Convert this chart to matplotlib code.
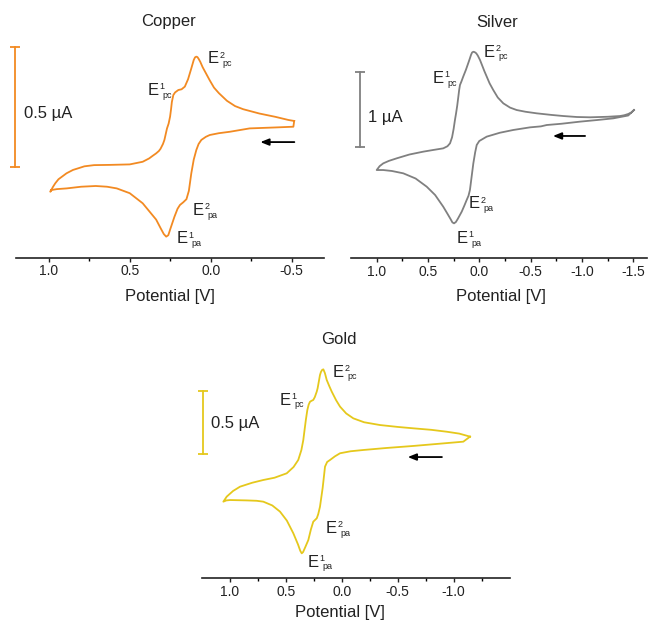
import matplotlib
matplotlib.use('Agg')
import matplotlib.pyplot as plt
from matplotlib.ticker import FixedLocator

plt.rcParams['font.family'] = ['Liberation Sans', 'DejaVu Sans']
plt.rcParams['axes.unicode_minus'] = False

W, H = 649, 624

# ---- Copper (potential V, current uA) ----
cu_v_cath = [-0.515, -0.48, -0.40, -0.30, -0.20, -0.15, -0.10, -0.05, -0.02, 0.006, 0.03, 0.05,
             0.065, 0.075, 0.082, 0.089, 0.097, 0.105, 0.12, 0.14, 0.16, 0.18, 0.20, 0.22, 0.231,
             0.24, 0.245, 0.251, 0.26, 0.27, 0.286, 0.295, 0.31, 0.32, 0.337, 0.36, 0.38, 0.42,
             0.50, 0.62, 0.72, 0.78, 0.817, 0.85, 0.89, 0.92, 0.94, 0.96, 0.975, 0.99]
cu_i_cath = [0.121, 0.125, 0.138, 0.152, 0.17, 0.183, 0.205, 0.237, 0.26, 0.29, 0.32, 0.345,
             0.368, 0.38, 0.387, 0.389, 0.386, 0.375, 0.34, 0.295, 0.264, 0.253, 0.25, 0.24, 0.229,
             0.20, 0.17, 0.139, 0.11, 0.09, 0.042, 0.025, 0.005, -0.004, -0.014, -0.025, -0.035, -0.049,
             -0.06, -0.062, -0.063, -0.068, -0.076, -0.083, -0.097, -0.112, -0.122, -0.139, -0.155, -0.174]
cu_v_anod = [0.99, 0.986, 0.95, 0.889, 0.80, 0.71, 0.64, 0.58, 0.50, 0.42, 0.337, 0.31, 0.29,
             0.275, 0.262, 0.25, 0.235, 0.224, 0.205, 0.19, 0.17, 0.15, 0.135, 0.12, 0.105, 0.089,
             0.075, 0.058, 0.03, 0.006, -0.05, -0.118, -0.24, -0.40, -0.51, -0.515]
cu_i_anod = [-0.174, -0.167, -0.163, -0.16, -0.153, -0.15, -0.153, -0.16, -0.18, -0.222, -0.29,
             -0.325, -0.35, -0.361, -0.355, -0.33, -0.30, -0.278, -0.245, -0.229, -0.218, -0.205,
             -0.17, -0.097, -0.04, 0.0, 0.025, 0.042, 0.055, 0.0625, 0.07, 0.076, 0.09, 0.094, 0.097,
             0.121]

# ---- Silver ----
ag_v_cath = [-1.506, -1.48, -1.45, -1.41, -1.37, -1.25, -1.078, -0.95, -0.818, -0.70, -0.559,
             -0.45, -0.364, -0.30, -0.234, -0.18, -0.136, -0.10, -0.072, -0.05, -0.03, -0.007, 0.015,
             0.03, 0.045, 0.058, 0.07, 0.08, 0.092, 0.107, 0.13, 0.156, 0.175, 0.188, 0.196, 0.204,
             0.215, 0.226, 0.237, 0.25, 0.265, 0.285, 0.31, 0.351, 0.45, 0.545, 0.68, 0.804, 0.88,
             0.935, 0.97, 0.999]
ag_i_cath = [0.533, 0.50, 0.48, 0.463, 0.453, 0.443, 0.436, 0.44, 0.453, 0.468, 0.489, 0.51,
             0.533, 0.565, 0.622, 0.70, 0.80, 0.89, 0.98, 1.05, 1.12, 1.2, 1.26, 1.29, 1.305, 1.31,
             1.30, 1.27, 1.22, 1.16, 1.07, 0.98, 0.91, 0.867, 0.80, 0.71, 0.59, 0.49, 0.40, 0.28,
             0.17, 0.089, 0.05, 0.022, 0.0, -0.022, -0.06, -0.111, -0.145, -0.178, -0.215, -0.267]
ag_v_anod = [0.999, 0.97, 0.935, 0.85, 0.74, 0.62, 0.512, 0.43, 0.351, 0.31, 0.28, 0.262, 0.246,
             0.228, 0.21, 0.19, 0.171, 0.145, 0.123, 0.105, 0.091, 0.075, 0.058, 0.04, 0.025, 0.0,
             -0.072, -0.2, -0.331, -0.494, -0.60, -0.656, -0.80, -0.98, -1.15, -1.305, -1.45, -1.506]
ag_i_anod = [-0.267, -0.267, -0.267, -0.28, -0.311, -0.38, -0.489, -0.60, -0.756, -0.85, -0.92,
             -0.965, -0.978, -0.96, -0.92, -0.87, -0.822, -0.74, -0.667, -0.61, -0.533, -0.36,
             -0.178, -0.03, 0.067, 0.12, 0.178, 0.23, 0.267, 0.302, 0.315, 0.333, 0.35, 0.378, 0.40,
             0.422, 0.46, 0.533]

# ---- Gold ----
au_v_cath = [-1.146, -1.05, -0.9375, -0.80, -0.639, -0.50, -0.342, -0.20, -0.104, -0.04, 0.015,
             0.05, 0.089, 0.11, 0.134, 0.15, 0.164, 0.175, 0.185, 0.194, 0.205, 0.215, 0.223, 0.24,
             0.254, 0.27, 0.283, 0.295, 0.307, 0.32, 0.333, 0.343, 0.36, 0.388, 0.43, 0.491, 0.60,
             0.70, 0.80, 0.908, 0.97, 1.027, 1.057]
au_i_cath = [0.106, 0.13, 0.145, 0.16, 0.172, 0.183, 0.198, 0.22, 0.251, 0.29, 0.344, 0.395,
             0.463, 0.505, 0.556, 0.61, 0.64, 0.635, 0.62, 0.595, 0.54, 0.49, 0.463, 0.42, 0.397,
             0.39, 0.383, 0.36, 0.317, 0.24, 0.15, 0.079, 0.0, -0.079, -0.135, -0.185, -0.22, -0.238,
             -0.26, -0.291, -0.325, -0.37, -0.41]
au_v_anod = [1.057, 1.03, 0.997, 0.85, 0.76, 0.70, 0.62, 0.551, 0.49, 0.432, 0.39, 0.37, 0.357,
             0.345, 0.325, 0.298, 0.275, 0.254, 0.238, 0.223, 0.21, 0.194, 0.17, 0.149, 0.13, 0.104,
             0.06, 0.015, -0.08, -0.193, -0.40, -0.639, -0.85, -1.086, -1.146]
au_i_anod = [-0.41, -0.40, -0.397, -0.40, -0.403, -0.41, -0.44, -0.489, -0.56, -0.661, -0.75,
             -0.80, -0.82, -0.81, -0.77, -0.714, -0.63, -0.569, -0.555, -0.542, -0.51, -0.45, -0.30,
             -0.132, -0.095, -0.079, -0.05, -0.026, -0.01, 0.0, 0.016, 0.032, 0.048, 0.066, 0.106]

cu_ticks = [1.0, 0.5, 0.0, -0.5]
ag_ticks = [1.0, 0.5, 0.0, -0.5, -1.0, -1.5]
au_ticks = [1.0, 0.5, 0.0, -0.5, -1.0]
cu_labels = ['1.0', '0.5', '0.0', '-0.5']
ag_labels = ['1.0', '0.5', '0.0', '-0.5', '-1.0', '-1.5']
au_labels = ['1.0', '0.5', '0.0', '-0.5', '-1.0']


def box(l, r, t, b):
  return [l/W, 1-b/H, (r-l)/W, (b-t)/H]


def elabel(ax, x, y, sup, sub):
  ax.text(x, y, 'E', fontsize=12, ha='left', va='baseline', color='#222222')
  ax.annotate(sup, xy=(x, y), xytext=(8.3, 4.2), textcoords='offset points',
              fontsize=6.5, va='baseline', ha='left', color='#222222')
  ax.annotate(sub, xy=(x, y), xytext=(10.3, -1.8), textcoords='offset points',
              fontsize=6.5, va='baseline', ha='left', color='#222222')


def panel(rect, v1, i1, v2, i2, color, xlim, ylim, ticks, labels, minor):
  ax = fig.add_axes(rect)
  ax.plot(v1 + v2, i1 + i2, color=color, lw=1.3, solid_joinstyle='round')
  ax.set_xlim(xlim)
  ax.set_ylim(ylim)
  for s in ['left', 'top', 'right']:
    ax.spines[s].set_visible(False)
  ax.spines['bottom'].set_linewidth(1.2)
  ax.spines['bottom'].set_color('#222222')
  ax.set_yticks([])
  ax.set_xticks(ticks)
  ax.set_xticklabels(labels)
  ax.xaxis.set_minor_locator(FixedLocator(minor))
  ax.tick_params(axis='x', which='major', direction='out', length=3, width=1, pad=1.5,
                 labelsize=10, colors='#222222')
  ax.tick_params(axis='x', which='minor', direction='out', length=2.2, width=1)
  ax.patch.set_alpha(0)
  return ax


def scalebar(ax, x, y0, y1, color, text, tx, ty):
  ax.plot([x, x], [y0, y1], color=color, lw=1.3, clip_on=False)
  ax.plot([x, x], [y0, y1], ls='none', marker='_', ms=7, mew=1.3, color=color, clip_on=False)
  ax.text(tx, ty, text, fontsize=12, ha='left', va='center', color='#222222')


def arrow(ax, x0, x1, y):
  ax.annotate('', xy=(x1, y), xytext=(x0, y),
              arrowprops=dict(arrowstyle='-|>,head_length=0.5,head_width=0.2', color='black',
                              lw=1.3, mutation_scale=10, shrinkA=0, shrinkB=0))


fig = plt.figure(figsize=(W/100, H/100), dpi=100)

# Copper
ax = panel(box(16, 324, 30, 258), cu_v_cath, cu_i_cath, cu_v_anod, cu_i_anod, '#F28A22',
           (1.202, -0.699), (-0.45, 0.5), cu_ticks, cu_labels, [0.75, 0.25, -0.25])
scalebar(ax, 1.208, 0.429, -0.071, '#F28A22', '0.5 µA', 1.152, 0.154)
elabel(ax, 0.017, 0.361, '2', 'pc')
elabel(ax, 0.387, 0.229, '1', 'pc')
elabel(ax, 0.109, -0.271, '2', 'pa')
elabel(ax, 0.208, -0.389, '1', 'pa')
arrow(ax, -0.516, -0.306, 0.033)

# Silver
ax = panel(box(350.7, 646.7, 30, 258.3), ag_v_cath, ag_i_cath, ag_v_anod, ag_i_anod, '#808080',
           (1.252, -1.63), (-1.444, 1.6), ag_ticks, ag_labels, [0.75, 0.25, -0.25, -0.75, -1.25])
scalebar(ax, 1.162, 1.036, 0.036, '#808080', '1 µA', 1.085, 0.427)
elabel(ax, -0.046, 1.244, '2', 'pc')
elabel(ax, 0.451, 0.889, '1', 'pc')
elabel(ax, 0.10, -0.778, '2', 'pa')
elabel(ax, 0.217, -1.244, '1', 'pa')
arrow(ax, -1.03, -0.717, 0.187)

# Gold
ax = panel(box(202.3, 510, 345, 578.3), au_v_cath, au_i_cath, au_v_anod, au_i_anod, '#E5C81C',
           (1.245, -1.503), (-1.018, 0.833), au_ticks, au_labels, [0.75, 0.25, -0.25, -0.75, -1.25])
scalebar(ax, 1.241, 0.468, -0.032, '#E5C81C', '0.5 µA', 1.164, 0.214)
elabel(ax, 0.078, 0.582, '2', 'pc')
elabel(ax, 0.551, 0.357, '1', 'pc')
elabel(ax, 0.140, -0.661, '2', 'pa')
elabel(ax, 0.301, -0.926, '1', 'pa')
arrow(ax, -0.895, -0.59, -0.056)

# titles and axis labels
for name, x, y in [('Copper', 168.5, 21.7), ('Silver', 497, 22.7), ('Gold', 339, 340)]:
  fig.text(x/W, 1-y/H, name, fontsize=12, ha='center', va='center', color='#222222')
for x, y in [(170, 296.7), (501, 296), (340, 613)]:
  fig.text(x/W, 1-y/H, 'Potential [V]', fontsize=12, ha='center', va='center', color='#222222')

fig.savefig('out.png', dpi=100)
